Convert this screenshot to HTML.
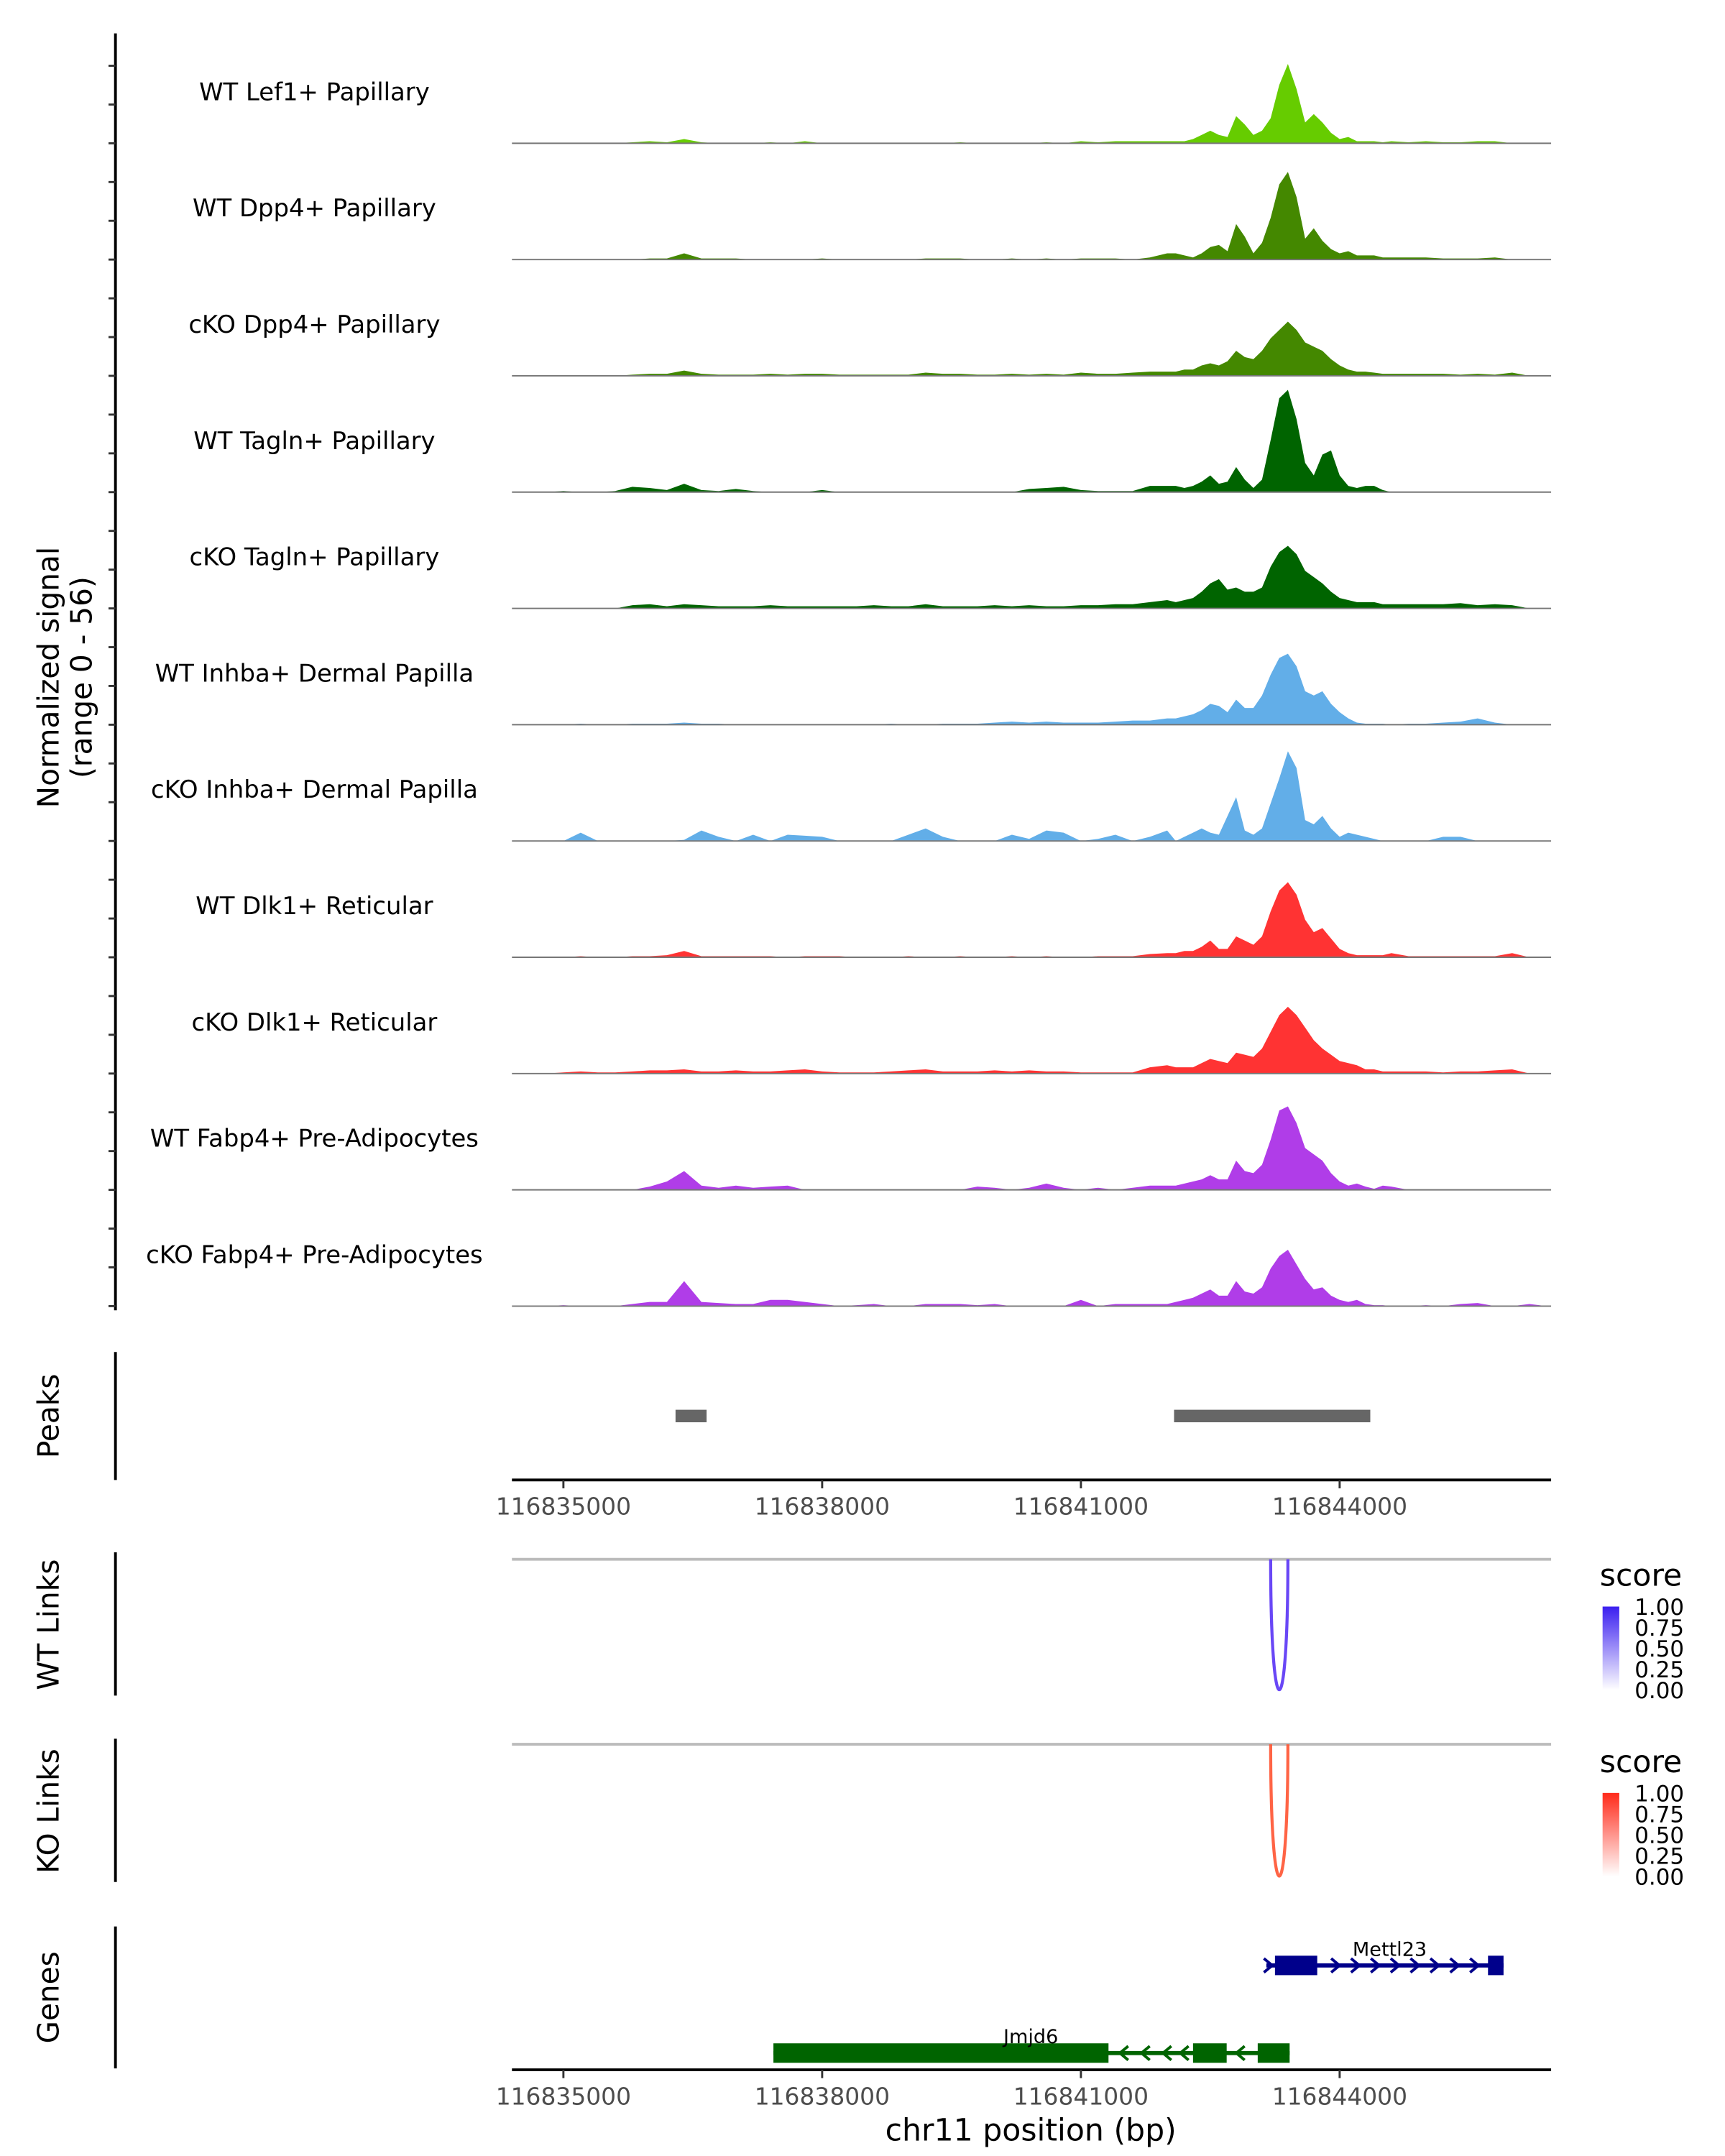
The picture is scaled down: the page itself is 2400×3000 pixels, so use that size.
<!DOCTYPE html>
<html><head><meta charset="utf-8"><style>
html,body{margin:0;padding:0;background:#fff}
svg{display:block;font-family:"DejaVu Sans","Liberation Sans",sans-serif}
</style></head><body>
<svg id="chart" width="2400" height="3000" viewBox="0 0 1240 1550" xmlns="http://www.w3.org/2000/svg">
<defs>
<linearGradient id="gBlue" x1="0" y1="1" x2="0" y2="0"><stop offset="0" stop-color="#ffffff"/><stop offset="1" stop-color="#3b1ff0"/></linearGradient>
<linearGradient id="gRed" x1="0" y1="1" x2="0" y2="0"><stop offset="0" stop-color="#ffffff"/><stop offset="1" stop-color="#ff2a1a"/></linearGradient>
</defs>
<g id="tracks"></g>
<g id="left">
<line x1="83" y1="24" x2="83" y2="942" stroke="#000" stroke-width="2"/>
</g>
<text transform="translate(42,487) rotate(-90)" text-anchor="middle" font-size="21">Normalized signal</text>
<text transform="translate(66,487) rotate(-90)" text-anchor="middle" font-size="21">(range 0 - 56)</text>

<line x1="83" y1="972" x2="83" y2="1064" stroke="#000" stroke-width="2"/>
<text transform="translate(42,1018) rotate(-90)" text-anchor="middle" font-size="21">Peaks</text>
<g id="peaks"></g>
<g id="axis1"></g>

<line x1="83" y1="1116" x2="83" y2="1219" stroke="#000" stroke-width="2"/>
<text transform="translate(42,1168) rotate(-90)" text-anchor="middle" font-size="21">WT Links</text>
<line x1="368" y1="1121" x2="1115" y2="1121" stroke="#bbb" stroke-width="2"/>
<g id="wtlinks"></g>
<g>
<text x="1150" y="1140" font-size="22">score</text>
<rect x="1152" y="1155" width="12" height="60" fill="url(#gBlue)"/>
<g font-size="16"><text x="1175" y="1161">1.00</text><text x="1175" y="1176">0.75</text><text x="1175" y="1191">0.50</text><text x="1175" y="1206">0.25</text><text x="1175" y="1221">0.00</text></g>
</g>

<line x1="83" y1="1250" x2="83" y2="1353" stroke="#000" stroke-width="2"/>
<text transform="translate(42,1302) rotate(-90)" text-anchor="middle" font-size="21">KO Links</text>
<line x1="368" y1="1254" x2="1115" y2="1254" stroke="#bbb" stroke-width="2"/>
<g id="kolinks"></g>
<g>
<text x="1150" y="1274" font-size="22">score</text>
<rect x="1152" y="1289" width="12" height="60" fill="url(#gRed)"/>
<g font-size="16"><text x="1175" y="1295">1.00</text><text x="1175" y="1310">0.75</text><text x="1175" y="1325">0.50</text><text x="1175" y="1340">0.25</text><text x="1175" y="1355">0.00</text></g>
</g>

<line x1="83" y1="1385" x2="83" y2="1487" stroke="#000" stroke-width="2"/>
<text transform="translate(42,1436) rotate(-90)" text-anchor="middle" font-size="21">Genes</text>
<g id="genes"></g>
<g id="axis2"></g>
<text x="741" y="1539" text-anchor="middle" font-size="22">chr11 position (bp)</text>
</svg>
<script>
const NS="http://www.w3.org/2000/svg";
const trackNames=["WT Lef1+ Papillary","WT Dpp4+ Papillary","cKO Dpp4+ Papillary","WT Tagln+ Papillary","cKO Tagln+ Papillary","WT Inhba+ Dermal Papilla","cKO Inhba+ Dermal Papilla","WT Dlk1+ Reticular","cKO Dlk1+ Reticular","WT Fabp4+ Pre-Adipocytes","cKO Fabp4+ Pre-Adipocytes"];
const trackColors=["#66cc00","#448800","#448800","#006400","#006400","#62aee8","#62aee8","#ff3333","#ff3333","#b03de8","#b03de8"];
// bin positions in kb offset from 116835000
const posLeft=[-0.6,-0.4,-0.2,0,0.2,0.4,0.6,0.8,1.0,1.2,1.4,1.6,1.8,2.0,2.2,2.4,2.6,2.8,3.0,3.2,3.4,3.6,3.8,4.0,4.2,4.4,4.6,4.8,5.0,5.2,5.4,5.6,5.8,6.0,6.2,6.4,6.6,6.8];
const posPeak=[7.0,7.1,7.2,7.3,7.4,7.5,7.6,7.7,7.8,7.9,8.0,8.1,8.2,8.3,8.4,8.5,8.6,8.7,8.8,8.9,9.0,9.1,9.2,9.3,9.4,9.5,9.6];
const posRight=[9.8,10.0,10.2,10.4,10.6,10.8,11.0,11.2,11.4];
const lef1WT=[0,0,0,0,0,0,0,0.5,1,0.5,2,0.5,0,0,0,0.5,0,1,0,0,0,0,0,0,0,0,0.5,0,0,0,0,0.5,0,1,0.5,1,1,1, 1,1,1,2,4,6,4,3,13,9,4,6,12,28,38,26,10,14,10,5,2,3,1,1,1,0.5,1, 0.5,1,0.5,0.5,1,1,0,0,0];
const dpp4WT=[0,0,0,0,0,0,0,0,0.5,0.5,3,0.5,0.5,0.5,0,0,0,0,0.5,0,0,0,0,0,0.5,0.5,0.5,0,0,0.5,0,0.5,0,0.5,0.5,0.5,0,1, 3,3,2,1,3,6,7,4,17,11,3,8,20,36,42,30,10,15,9,5,3,4,2,2,2,1,1, 1,1,0.5,0.5,0.5,1,0,0,0];
const dpp4KO=[0,0,0,0,0,0,0,0.5,1,1,2.5,1,0.5,0.5,0.5,1,0.5,1,1,0.5,0.5,0.5,0.5,0.5,1.5,1,1,0.5,0.5,1,0.5,1,0.5,1.5,1,1,1.5,2, 2,2,3,3,5,6,5,7,12,9,8,12,18,22,26,22,16,14,12,8,5,3,2,2,1.5,1,1, 1,1,1,0.5,1,0.5,1.5,0,0];
const taglnWT=[0,0,0,0.5,0,0,0.5,2.5,2,1,4,1,0.5,1.5,0.5,0,0,0,1,0,0,0,0,0,0,0,0,0,0,0,1.5,2,2.5,1,0.5,0.5,0.5,3, 3,3,2,3,5,8,4,5,12,6,2,6,25,45,49,35,14,8,18,20,8,3,2,3,3,1,0, 0,0,0,0,0,0,0,0,0];
const taglnKO=[0,0,0,0,0,0,0,1.5,2,1,2,1.5,1,1,1,1.5,1,1,1,1,1,1.5,1,1,2,1,1,1,1.5,1,1.5,1,1,1.5,1.5,2,2,3, 4,3,4,5,8,12,14,9,10,8,8,10,20,27,30,26,18,15,12,8,5,4,3,3,3,2,2, 2,2,2,2.5,1.5,2,1.5,0,0];
const inhbaWT=[0,0,0,0,0.5,0,0,0.5,0.5,0.5,1,0.5,0.5,0,0,0,0,0,0,0,0,0,0.5,0,0,0.5,0.5,0.5,1,1.5,1,1.5,1,1,1,1.5,2,2, 3,3,4,5,7,10,9,6,12,8,8,14,24,32,34,28,16,14,16,10,6,3,1,0.5,0.5,0.5,0, 0.5,0.5,1,1.5,3,1,0,0,0];
const inhbaKO=[0,0,0,0,4,0,0,0,0,0,0.5,5,2,0,3,0,3,2.5,2,0,0,0,0,3,6,2,0,0,0,3,1,5,4,0,1,3,0,2, 5,0,2,4,6,4,3,12,21,5,3,6,18,30,43,35,10,8,12,6,2,4,3,2,1,0,0, 0,0,2,2,0,0,0,0,0];
const dlk1WT=[0,0,0,0,0.5,0,0,0.5,0.5,1,3,0.5,0.5,0.5,0.5,0.5,0,0.5,0.5,0.5,0,0,0,0.5,0,0,0.5,0,0,0.5,0,0.5,0,0,0.5,0.5,0.5,1.5, 2,2,3,3,5,8,4,4,10,8,6,10,22,32,36,30,18,12,14,9,4,2,1,1,1,1,2, 0.5,0.5,0.5,0.5,0.5,0.5,2,0,0];
const dlk1KO=[0,0,0,0.5,1,0.5,0.5,1,1.5,1.5,2,1,1,1.5,1,1,1.5,2,1,0.5,0.5,0.5,1,1.5,2,1,1,1,1.5,1,1.5,1,1,0.5,0.5,0.5,0.5,3, 4,3,3,3,5,7,6,5,10,9,8,12,20,28,32,28,22,16,12,9,6,5,4,2,2,1,1, 1,1,0.5,1,1,1.5,2,0,0];
const fabp4WT=[0,0,0,0,0,0,0,0,1.5,4,9,2,1,2,1,1.5,2,0,0,0,0,0,0,0,0,0,0,1.5,1,0,1,3,1,0,1,0,1,2, 2,2,3,4,5,7,5,5,14,9,8,12,24,38,40,32,20,17,14,8,4,2,3,1.5,0.5,2,1.5, 0,0,0,0,0,0,0,0,0];
const fabp4KO=[0,0,0,0.5,0,0,0,1,2,2,12,2,1.5,1,1,3,3,2,1,0,0.5,1,0,0,1,1,1,0.5,1,0,0,0,0,3,0,1,1,1, 1,2,3,4,6,8,5,5,12,7,6,9,18,24,27,20,13,8,9,5,3,2,3,1,0.5,0.5,0, 0,0.5,0,1,1.5,0,0,1,0];
const trackValues=[lef1WT,dpp4WT,dpp4KO,taglnWT,taglnKO,inhbaWT,inhbaKO,dlk1WT,dlk1KO,fabp4WT,fabp4KO];
const xTicks=[116835000,116838000,116841000,116844000];
const peakStarts=[116836300,116842080];
const peakEnds=[116836660,116844355];
const wtLinkStart=[116843200]; const wtLinkEnd=[116843400]; const wtLinkScore=[0.85];
const koLinkStart=[116843200]; const koLinkEnd=[116843400]; const koLinkScore=[0.85];

const X0=116835000;
function xs(bp){return 405+(bp-X0)*0.062;}
function xkb(kb){return xs(X0+kb*1000);}
const yMax=56, trackH=83.6, base0=103;
function ys(i,v){return base0+i*trackH - v/yMax*84;}
function mk(tag,attrs,parent){const e=document.createElementNS(NS,tag);for(const k in attrs)e.setAttribute(k,attrs[k]);parent.appendChild(e);return e;}

const pos=posLeft.concat(posPeak,posRight);
const tg=document.getElementById('tracks');
const lg=document.getElementById('left');
trackNames.forEach((nm,i)=>{
  const b=ys(i,0);
  const g=mk('g',{},tg);
  
  
  const vals=trackValues[i];
  let d='M'+xkb(pos[0]).toFixed(1)+','+b;
  pos.forEach((p,j)=>{d+=' L'+xkb(p).toFixed(1)+','+ys(i,vals[j]).toFixed(1);});
  d+=' L'+xkb(pos[pos.length-1]).toFixed(1)+','+b+' Z';
  const a=mk('path',{d:d,fill:trackColors[i]},g);
  
  
  const l=mk('line',{x1:368,x2:1115,y1:b,y2:b,stroke:'#777','stroke-width':1},g);
  
  
  const t=mk('text',{x:226,y:b-31,'text-anchor':'middle','font-size':17.5},g);
  
  
  t.textContent=nm;
  for(let k=0;k<3;k++){
    const ty=b-k*trackH/3;
    const tk=mk('line',{x1:78,x2:83,y1:ty,y2:ty,stroke:'#333','stroke-width':1.5},lg);
    
    
  }
});
// peaks
const pg=document.getElementById('peaks');
peakStarts.forEach((s,i)=>{
  const r=mk('rect',{x:xs(s),y:1013.5,width:xs(peakEnds[i])-xs(s),height:9,fill:'#666'},pg);
  
  
});
function axis(id,y){
  const g=document.getElementById(id);
  mk('line',{x1:368,x2:1115,y1:y,y2:y,stroke:'#000','stroke-width':2},g);
  xTicks.forEach(t=>{
    mk('line',{x1:xs(t),x2:xs(t),y1:y,y2:y+6,stroke:'#333','stroke-width':1.5},g);
    const tx=mk('text',{x:xs(t),y:y+25,'text-anchor':'middle','font-size':17,fill:'#4d4d4d'},g);
    
    
    tx.textContent=t;
  });
}
axis('axis1',1064); axis('axis2',1488);
function links(id,st,en,sc,top,depth,col){
  const g=document.getElementById(id);
  st.forEach((s,i)=>{
    const x1=xs(s),x2=xs(en[i]);
    const p=mk('path',{d:`M${x1},${top} C${x1},${top+depth*1.33} ${x2},${top+depth*1.33} ${x2},${top}`,fill:'none',stroke:col,'stroke-width':2.2,opacity:0.4+0.6*sc[i]},g);
    
    
  });
}
links('wtlinks',wtLinkStart,wtLinkEnd,wtLinkScore,1121,94,'#5a35f5');
links('kolinks',koLinkStart,koLinkEnd,koLinkScore,1254,95,'#ff5533');
// genes
const gg=document.getElementById('genes');
function gene(name,color,y,start,end,exons,dir,chev,labelX){
  const g=mk('g',{},gg);
  
  
  mk('line',{x1:xs(start),x2:xs(end),y1:y,y2:y,stroke:color,'stroke-width':3},g);
  exons.forEach(e=>mk('rect',{x:xs(e[0]),y:y-7,width:xs(e[1])-xs(e[0]),height:14,fill:color},g));
  chev.forEach(c=>{const x=xs(c);mk('path',{d:`M${x-dir*3},${y-5} L${x+dir*3},${y} L${x-dir*3},${y+5}`,fill:'none',stroke:color,'stroke-width':2},g);});
  const t=mk('text',{x:labelX,y:y-7,'text-anchor':'middle','font-size':14},g);
  t.textContent=name;
}
gene('Mettl23','#00008b',1413,116843150,116845900,[[116843250,116843740],[116845720,116845900]],1,[116843170,116843950,116844180,116844410,116844640,116844870,116845100,116845330,116845560],999);
gene('Jmjd6','#006400',1476,116837435,116843420,[[116837435,116841320],[116842300,116842690],[116843050,116843420]],-1,[116841500,116841750,116842000,116842200,116842850],741);
</script>
</body></html>
